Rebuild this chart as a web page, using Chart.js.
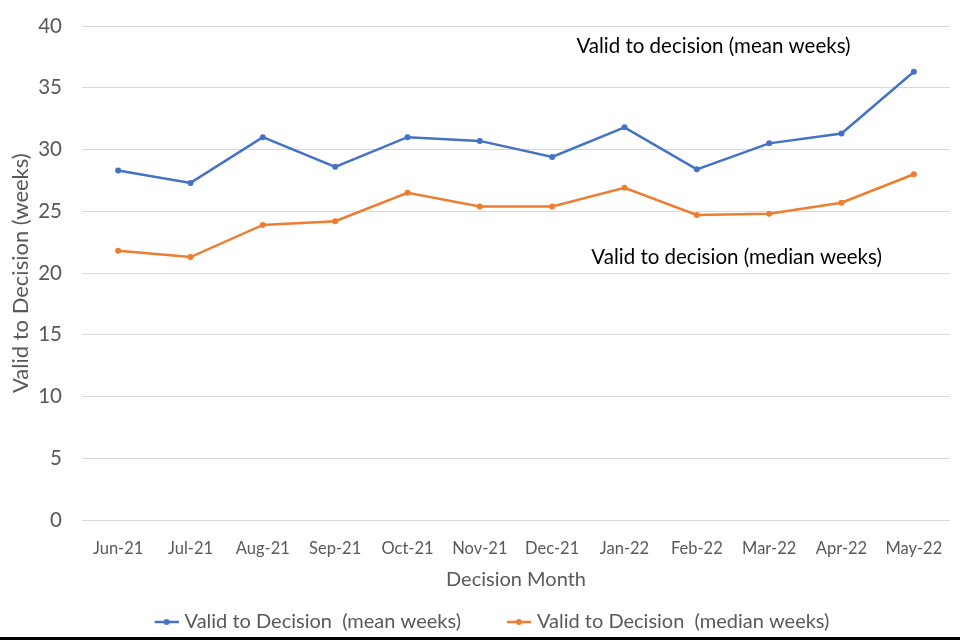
<!DOCTYPE html>
<html>
<head>
<meta charset="utf-8">
<script src="https://cdn.jsdelivr.net/npm/chart.js@4.4.1/dist/chart.umd.min.js"></script>
<style>
  html, body { margin: 0; padding: 0; background: #fff; }
  #wrap { width: 960px; height: 637px; border-bottom: 3px solid #000; }
</style>
</head>
<body>
<div id="wrap"><canvas id="chart" width="960" height="637"></canvas></div>
<script>
// Data
const months = ["Jun-21", "Jul-21", "Aug-21", "Sep-21", "Oct-21", "Nov-21",
                "Dec-21", "Jan-22", "Feb-22", "Mar-22", "Apr-22", "May-22"];
const meanWeeks   = [28.3, 27.3, 31.0, 28.6, 31.0, 30.7, 29.4, 31.8, 28.4, 30.5, 31.3, 36.3];
const medianWeeks = [21.8, 21.3, 23.9, 24.2, 26.5, 25.4, 25.4, 26.9, 24.7, 24.8, 25.7, 28.0];
const yTicks = [0, 5, 10, 15, 20, 25, 30, 35, 40];

const BLUE = "#4472C4";
const ORANGE = "#ED7D31";
const TEXT = "#595959";
const FONT = "Lato, 'Open Sans', sans-serif";

// Legend marker: short line with a dot, sitting in the right part of the box
// (the blank left part gives the wider gap between the two legend entries)
function legendMarker(color) {
  const c = document.createElement("canvas");
  c.width = 58; c.height = 10;
  const g = c.getContext("2d");
  g.strokeStyle = color; g.lineWidth = 2.5;
  g.beginPath(); g.moveTo(34, 5); g.lineTo(58, 5); g.stroke();
  g.fillStyle = color;
  g.beginPath(); g.arc(46, 5, 3, 0, Math.PI * 2); g.fill();
  return c;
}

// In-chart labels positioned in data coordinates
const notes = {
  id: "notes",
  afterDatasetsDraw(chart) {
    const { ctx, scales: { x, y } } = chart;
    ctx.save();
    ctx.font = "20.5px " + FONT;
    ctx.fillStyle = "#000";
    ctx.textAlign = "center";
    ctx.textBaseline = "middle";
    ctx.fillText("Valid to decision (mean weeks)", x.getPixelForValue(8.23), y.getPixelForValue(38.35));
    ctx.fillText("Valid to decision (median weeks)", x.getPixelForValue(8.55), y.getPixelForValue(21.3));
    ctx.restore();
  }
};

new Chart(document.getElementById("chart"), {
  type: "line",
  data: {
    labels: months,
    datasets: [
      {
        label: "Valid to Decision  (mean weeks)",
        data: meanWeeks,
        borderColor: BLUE,
        backgroundColor: BLUE,
        borderWidth: 2.5,
        pointRadius: 3,
        pointBorderWidth: 0,
        tension: 0
      },
      {
        label: "Valid to Decision  (median weeks)",
        data: medianWeeks,
        borderColor: ORANGE,
        backgroundColor: ORANGE,
        borderWidth: 2.5,
        pointRadius: 3,
        pointBorderWidth: 0,
        tension: 0
      }
    ]
  },
  options: {
    responsive: false,
    animation: false,
    layout: { padding: { top: 2, right: 10, left: 4, bottom: 0 } },
    plugins: {
      tooltip: { enabled: false },
      legend: {
        position: "bottom",
        maxHeight: 41,
        labels: {
          usePointStyle: true,
          pointStyleWidth: 50,
          color: TEXT,
          font: { family: FONT, size: 20 },
          padding: 16,
          generateLabels(chart) {
            return chart.data.datasets.map((ds, i) => ({
              text: ds.label,
              fontColor: TEXT,
              pointStyle: legendMarker(ds.borderColor),
              strokeStyle: ds.borderColor,
              fillStyle: ds.borderColor,
              lineWidth: 0,
              datasetIndex: i,
              hidden: false
            }));
          }
        }
      }
    },
    scales: {
      x: {
        offset: true,
        grid: { display: false },
        border: { display: false },
        ticks: { color: TEXT, font: { family: FONT, size: 16.5 }, padding: 11, maxRotation: 0 },
        title: { display: true, text: "Decision Month", color: TEXT, font: { family: FONT, size: 20 }, padding: { top: -2, bottom: 4 } }
      },
      y: {
        min: 0,
        max: 40,
        afterBuildTicks(scale) { scale.ticks = yTicks.map(v => ({ value: v })); },
        afterFit(scale) { scale.width = 78; scale.paddingTop = 26; },
        grid: { color: "#d9d9d9", lineWidth: 1, drawTicks: false },
        border: { display: false },
        ticks: { color: TEXT, font: { family: FONT, size: 20.5 }, padding: 20 },
        title: { display: true, text: "Valid to Decision (weeks)", color: TEXT, font: { family: FONT, size: 22 }, padding: { top: 4, bottom: 4 } }
      }
    }
  },
  plugins: [notes]
});
</script>
</body>
</html>
